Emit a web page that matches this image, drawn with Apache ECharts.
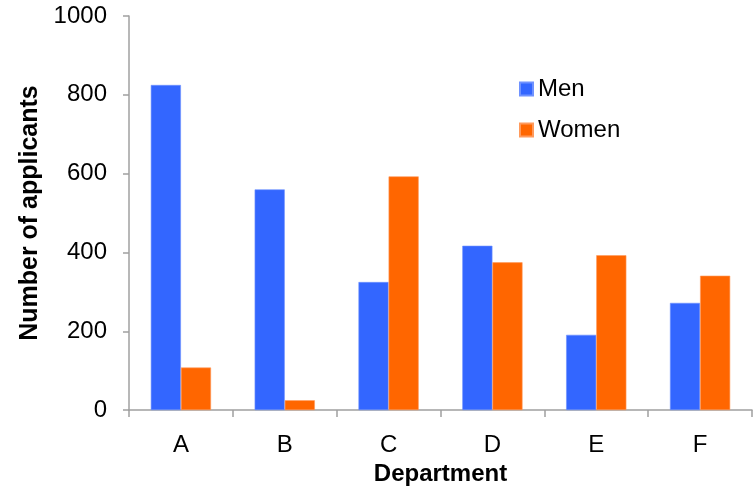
<!DOCTYPE html>
<html>
<head>
<meta charset="utf-8">
<script src="https://cdn.jsdelivr.net/npm/echarts@6/dist/echarts.min.js"></script>
<style>html,body{margin:0;padding:0;background:#fff}#c{width:754px;height:491px}</style>
</head>
<body>
<div id="c"></div>
<script>
var departments = ['A', 'B', 'C', 'D', 'E', 'F'];
var men = [825, 560, 325, 417, 191, 272];
var women = [108, 25, 593, 375, 393, 341];
var yTicks = [0, 200, 400, 600, 800, 1000];

var font = '"Liberation Sans", Arial, sans-serif';
var chart = echarts.init(document.getElementById('c'));
chart.setOption({
  animation: false,
  grid: { left: 129, right: 2, top: 16, bottom: 76, containLabel: false },
  legend: {
    orient: 'vertical',
    left: 514,
    top: 72,
    itemWidth: 13,
    itemHeight: 13,
    itemGap: 17,
    icon: 'rect',
    textStyle: { fontFamily: font, fontSize: 24, color: '#000', padding: [0, 0, 0, 0] },
    data: ['Men', 'Women']
  },
  xAxis: {
    type: 'category',
    data: departments,
    name: 'Department',
    nameLocation: 'middle',
    nameGap: 50,
    nameTextStyle: { fontFamily: font, fontSize: 24, fontWeight: 'bold', color: '#000' },
    axisLine: { lineStyle: { color: '#a0a0a0', width: 1.5 } },
    axisTick: { show: true, length: 7, lineStyle: { color: '#a0a0a0', width: 1.5 } },
    axisLabel: { fontFamily: font, fontSize: 24, color: '#000', margin: 23 }
  },
  yAxis: {
    type: 'value',
    min: yTicks[0],
    max: yTicks[yTicks.length - 1],
    interval: yTicks[1] - yTicks[0],
    name: 'Number of applicants',
    nameLocation: 'middle',
    nameGap: 77,
    nameTextStyle: { fontFamily: font, fontSize: 25, fontWeight: 'bold', color: '#000' },
    axisLine: { show: true, lineStyle: { color: '#a0a0a0', width: 1.5 } },
    axisTick: { show: true, length: 6, lineStyle: { color: '#a0a0a0', width: 1.5 } },
    splitLine: { show: false },
    axisLabel: { fontFamily: font, fontSize: 24, color: '#000', margin: 22,
      formatter: function (v) { return String(v); } }
  },
  series: [
    { name: 'Men', type: 'bar', data: men, barGap: '0%', barCategoryGap: '42%',
      itemStyle: { color: '#3366FF', borderColor: '#6f92ff', borderWidth: 0.6 } },
    { name: 'Women', type: 'bar', data: women, barGap: '0%', barCategoryGap: '42%',
      itemStyle: { color: '#FF6600', borderColor: '#ff9a5c', borderWidth: 0.6 } }
  ]
});
</script>
</body>
</html>
